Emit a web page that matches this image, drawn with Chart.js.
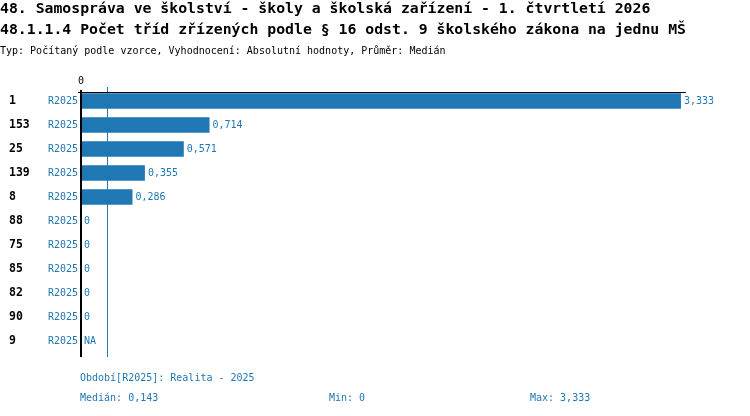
<!DOCTYPE html>
<html lang="cs">
<head>
<meta charset="utf-8">
<title>Počet tříd na jednu MŠ</title>
<script src="https://cdn.jsdelivr.net/npm/chart.js@4/dist/chart.umd.min.js"></script>
<style>
    html, body { margin: 0; padding: 0; background: #fff; }
    canvas { display: block; }
</style>
</head>
<body>
<canvas id="grafMs" width="750" height="416"></canvas>
<script>
// Data grafu
const nadpisy = [
    '48. Samospráva ve školství - školy a školská zařízení - 1. čtvrtletí 2026',
    '48.1.1.4 Počet tříd zřízených podle § 16 odst. 9 školského zákona na jednu MŠ'
];
const podnadpis = 'Typ: Počítaný podle vzorce, Vyhodnocení: Absolutní hodnoty, Průměr: Medián';
const kategorie = ['1', '153', '25', '139', '8', '88', '75', '85', '82', '90', '9'];
const obdobi = ['R2025', 'R2025', 'R2025', 'R2025', 'R2025', 'R2025', 'R2025', 'R2025', 'R2025', 'R2025', 'R2025'];
const hodnoty = [3.333, 0.714, 0.571, 0.355, 0.286, 0, 0, 0, 0, 0, null];
const tickyX = [0];
const median = 0.143;
const minimum = 0;
const maximum = 3.333;
const popisObdobi = 'Období[R2025]: Realita - 2025';

const MODRA = '#1f77b4';
const MONO = '"DejaVu Sans Mono", "Liberation Mono", monospace';

function formatCislo(v) {
    if (v === null || v === undefined) return 'NA';
    if (v === 0) return '0';
    return v.toFixed(3).replace('.', ',');
}

// Texty, osy a popisky kreslene pres plugin
const popiskyPlugin = {
    id: 'popisky',
    afterDatasetsDraw(chart) {
        const { ctx, chartArea } = chart;
        const x = chart.scales.x;
        const y = chart.scales.y;
        const x0 = x.getPixelForValue(0);

        ctx.save();
        // nadpisy
        ctx.fillStyle = '#000';
        ctx.textAlign = 'left';
        ctx.textBaseline = 'middle';
        ctx.font = 'bold 14.8px ' + MONO;
        ctx.fillText(nadpisy[0], 0, 9);
        ctx.fillText(nadpisy[1], 0, 30);
        ctx.font = '10px ' + MONO;
        ctx.fillText(podnadpis, 0, 51);

        // ticky osy x
        ctx.textAlign = 'center';
        ctx.font = '10px ' + MONO;
        tickyX.forEach(t => ctx.fillText(String(t), x.getPixelForValue(t), 81));

        // median
        const xm = Math.round(x.getPixelForValue(median)) + 0.5;
        ctx.strokeStyle = MODRA;
        ctx.lineWidth = 1;
        ctx.beginPath();
        ctx.moveTo(xm, 87);
        ctx.lineTo(xm, 357);
        ctx.stroke();

        // osy
        ctx.strokeStyle = '#000';
        ctx.lineWidth = 1;
        ctx.beginPath();
        ctx.moveTo(78, 92.5);
        ctx.lineTo(chartArea.right, 92.5);
        ctx.stroke();
        ctx.lineWidth = 2;
        ctx.beginPath();
        ctx.moveTo(x0, 90);
        ctx.lineTo(x0, 357);
        ctx.stroke();

        // popisky radku a hodnot
        kategorie.forEach((kat, i) => {
            const yy = y.getPixelForValue(i);
            ctx.textAlign = 'left';
            ctx.fillStyle = '#000';
            ctx.font = 'bold 11.5px ' + MONO;
            ctx.fillText(kat, 9, yy);
            ctx.fillStyle = MODRA;
            ctx.font = '10px ' + MONO;
            ctx.textAlign = 'right';
            ctx.fillText(obdobi[i], 78, yy);
            ctx.textAlign = 'left';
            const v = hodnoty[i];
            const xe = x.getPixelForValue(v || 0);
            ctx.fillText(formatCislo(v), xe + 3, yy);
        });

        // paticka
        ctx.fillStyle = MODRA;
        ctx.font = '10px ' + MONO;
        ctx.textAlign = 'left';
        ctx.fillText(popisObdobi, 80, 378);
        ctx.fillText('Medián: ' + formatCislo(median), 80, 398);
        ctx.fillText('Min: ' + formatCislo(minimum), 329, 398);
        ctx.fillText('Max: ' + formatCislo(maximum), 530, 398);
        ctx.restore();
    }
};

const ctx = document.getElementById('grafMs').getContext('2d');
const grafMs = new Chart(ctx, {
    type: 'bar',
    data: {
        labels: kategorie,
        datasets: [{
            label: 'R2025',
            data: hodnoty,
            backgroundColor: MODRA,
            borderWidth: 0,
            categoryPercentage: 1,
            barPercentage: 0.65
        }]
    },
    options: {
        indexAxis: 'y',
        responsive: false,
        animation: false,
        events: [],
        layout: {
            padding: { left: 81, right: 64, top: 89, bottom: 63 }
        },
        plugins: {
            legend: { display: false },
            title: { display: false },
            tooltip: { enabled: false }
        },
        scales: {
            x: {
                display: false,
                min: 0,
                max: 3.361
            },
            y: {
                display: false
            }
        }
    },
    plugins: [popiskyPlugin]
});
</script>
</body>
</html>
